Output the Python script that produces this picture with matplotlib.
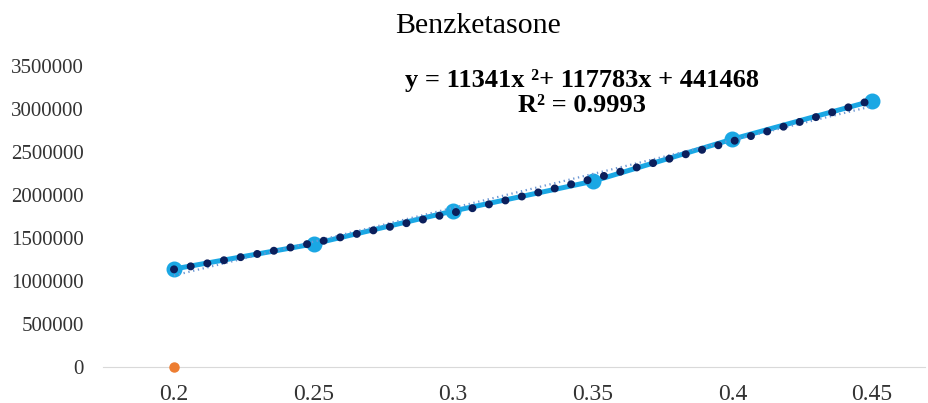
import numpy as np
import matplotlib
matplotlib.use("Agg")
import matplotlib.pyplot as plt

# 資料
conc = [0.2, 0.25, 0.3, 0.35, 0.4, 0.45]
area = [1140000, 1432000, 1815000, 2160000, 2650000, 3095000]
blank_x = [0.2]
blank_y = [0]
x_ticks = [0.2, 0.25, 0.3, 0.35, 0.4, 0.45]
x_labels = ["0.2", "0.25", "0.3", "0.35", "0.4", "0.45"]
y_ticks = [0, 500000, 1000000, 1500000, 2000000, 2500000, 3000000, 3500000]
title = "Benzketasone"
eq_text = "y = 11341x ²+ 117783x + 441468"
r2_text = "R² = 0.9993"

plt.rcParams["font.family"] = ["Liberation Serif", "DejaVu Serif"]

fig = plt.figure(figsize=(9.29, 4.03), dpi=100)
ax = fig.add_axes([0.111, 0.0893, 0.8847, 0.7467])

# 趨勢線
xx = np.linspace(conc[0], conc[-1], 200)
poly = np.polyfit(conc, area, 2)
lin = np.polyfit(conc, area, 1)

ax.plot(conc, area, color="#1aa7e4", lw=3.6, marker="o", ms=10.5,
        mfc="#1aa7e4", mec="#1aa7e4", zorder=2)
ax.plot(xx, np.polyval(lin, xx), color="#6d98d4", lw=1.6,
        linestyle=(0, (0.6, 1.6)), zorder=3)
ax.plot(xx, np.polyval(poly, xx), color="#0b1f5c", lw=5.8,
        linestyle=(0, (0.001, 2.1)), dash_capstyle="round", zorder=4)
ax.plot(blank_x, blank_y, "o", color="#ed7d31", ms=6.5, clip_on=False, zorder=5)

ax.set_xlim(0.1746, 0.469)
ax.set_ylim(0, 3500000)
ax.set_xticks(x_ticks)
ax.set_xticklabels(x_labels, fontsize=17)
ax.set_yticks(y_ticks)
ax.set_yticklabels([str(v) for v in y_ticks], fontsize=15)
ax.tick_params(length=0, colors="#333333")
ax.tick_params(axis="y", pad=14)
ax.tick_params(axis="x", pad=12)

for s in ["top", "right", "left"]:
    ax.spines[s].set_visible(False)
ax.spines["bottom"].set_color("#d9d9d9")

fig.text(0.515, 0.935, title, ha="center", va="center", fontsize=21.5)
fig.text(0.627, 0.80, eq_text, ha="center", va="center", fontsize=19, fontweight="bold")
fig.text(0.626, 0.737, r2_text, ha="center", va="center", fontsize=19, fontweight="bold")

fig.savefig("out.png", dpi=100)
